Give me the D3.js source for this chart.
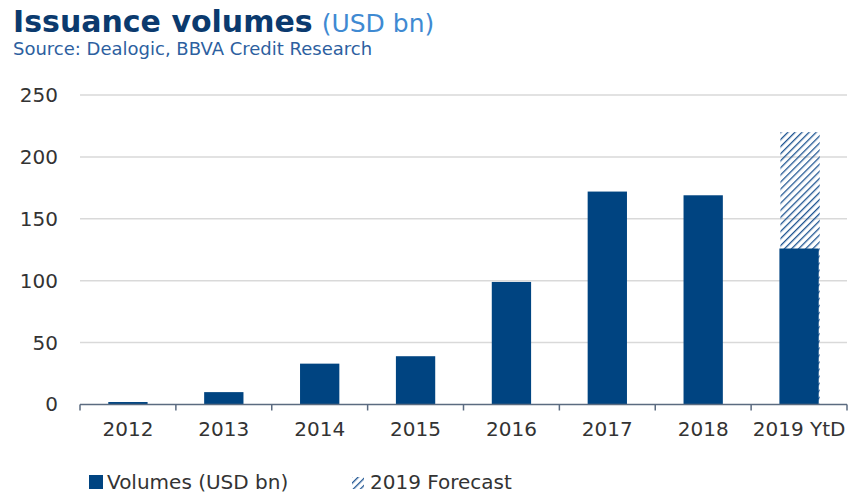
<!DOCTYPE html>
<html>
<head>
<meta charset="utf-8">
<script src="https://cdn.jsdelivr.net/npm/d3@7/dist/d3.min.js"></script>
<style>
  html, body { margin: 0; padding: 0; background: #fff; }
  svg { display: block; font-family: "DejaVu Sans", sans-serif; }
</style>
</head>
<body>
<svg id="chart" width="851" height="496"></svg>
<script>
// Issuance volumes by year, USD bn
const categories = ["2012", "2013", "2014", "2015", "2016", "2017", "2018", "2019 YtD"];
const volumes = [2, 10, 33, 39, 99, 172, 169, 126];
// Full-year forecast for 2019 (total), shown hatched above the year-to-date figure
const forecastTotal = [null, null, null, null, null, null, null, 220];
const yTicks = [0, 50, 100, 150, 200, 250];

const navy = "#004481";
const svg = d3.select("#chart");

const x = d3.scaleBand()
  .domain(categories)
  .range([80, 847])
  .paddingInner(0.59)
  .paddingOuter(0.295);

const y = d3.scaleLinear().domain([0, 250]).range([404.5, 95]);

// Hatch pattern for the forecast
const defs = svg.append("defs");
defs.append("pattern")
  .attr("id", "hatch")
  .attr("patternUnits", "userSpaceOnUse")
  .attr("width", 5)
  .attr("height", 5)
  .attr("patternTransform", "rotate(45)")
  .append("rect")
  .attr("x", 0).attr("y", 0)
  .attr("width", 1.3).attr("height", 5)
  .attr("fill", "#1f5592");

// Titles
const title = svg.append("text").attr("x", 13).attr("y", 31.5);
title.append("tspan")
  .attr("font-weight", "bold").attr("font-size", 30).attr("fill", "#0b3a6e")
  .text("Issuance volumes");
title.append("tspan")
  .attr("font-size", 25).attr("fill", "#3f8ad2").attr("dx", 9)
  .text("(USD bn)");

svg.append("text")
  .attr("x", 13).attr("y", 55)
  .attr("font-size", 18).attr("fill", "#2d5f9f")
  .text("Source: Dealogic, BBVA Credit Research");

// Gridlines and y labels
const yAxis = d3.axisLeft(y).tickValues(yTicks).tickSize(0).tickPadding(0);
const gy = svg.append("g").attr("transform", "translate(58,0)").call(yAxis);
gy.select(".domain").remove();
gy.selectAll("text")
  .attr("font-size", 20).attr("fill", "#333")
  .attr("font-family", "DejaVu Sans, sans-serif");

svg.append("g").selectAll("line")
  .data(yTicks.filter(d => d > 0))
  .join("line")
  .attr("x1", 80).attr("x2", 847)
  .attr("y1", d => y(d)).attr("y2", d => y(d))
  .attr("stroke", "#d9d9d9").attr("stroke-width", 1.5);

// Forecast (hatched) bars
svg.append("g").selectAll("rect")
  .data(categories.map((c, i) => ({ c, v: forecastTotal[i] })).filter(d => d.v != null))
  .join("rect")
  .attr("x", d => x(d.c) + 1)
  .attr("width", x.bandwidth())
  .attr("y", d => y(d.v))
  .attr("height", d => y(0) - y(d.v))
  .attr("fill", "url(#hatch)");

// Volume bars
svg.append("g").selectAll("rect")
  .data(categories.map((c, i) => ({ c, v: volumes[i] })))
  .join("rect")
  .attr("x", d => x(d.c))
  .attr("width", x.bandwidth())
  .attr("y", d => y(d.v))
  .attr("height", d => y(0) - y(d.v))
  .attr("fill", navy);

// X axis with ticks between categories
const axisColor = "#5b6b80";
const boundaries = categories.map(c => x(c) - x.step() * x.paddingOuter()).concat([847]);
const gx = svg.append("g");
gx.append("line")
  .attr("x1", 80).attr("x2", 847)
  .attr("y1", y(0)).attr("y2", y(0))
  .attr("stroke", axisColor).attr("stroke-width", 1.5);
gx.selectAll("line.tick")
  .data(boundaries)
  .join("line")
  .attr("class", "tick")
  .attr("x1", d => d).attr("x2", d => d)
  .attr("y1", y(0)).attr("y2", y(0) + 6)
  .attr("stroke", axisColor).attr("stroke-width", 1.5);
gx.selectAll("text")
  .data(categories)
  .join("text")
  .attr("x", d => x(d) + x.bandwidth() / 2)
  .attr("y", 435.5)
  .attr("text-anchor", "middle")
  .attr("font-size", 20).attr("fill", "#333")
  .text(d => d);

// Legend
const lg = svg.append("g");
lg.append("rect").attr("x", 89).attr("y", 475).attr("width", 14).attr("height", 14).attr("fill", navy);
lg.append("text").attr("x", 107).attr("y", 489).attr("font-size", 20).attr("fill", "#333")
  .text("Volumes (USD bn)");
lg.append("rect").attr("x", 352).attr("y", 477).attr("width", 12).attr("height", 12).attr("fill", "url(#hatch)");
lg.append("text").attr("x", 370).attr("y", 489).attr("font-size", 20).attr("fill", "#333")
  .text("2019 Forecast");
</script>
</body>
</html>
